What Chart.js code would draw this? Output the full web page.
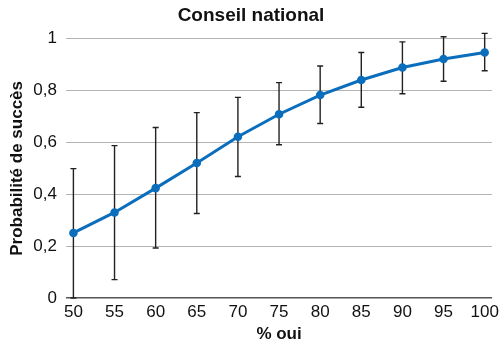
<!DOCTYPE html>
<html>
<head>
<meta charset="utf-8">
<script src="https://cdn.jsdelivr.net/npm/chart.js@4/dist/chart.umd.min.js"></script>
<style>
  html, body { margin: 0; padding: 0; background: #fff; }
  #wrap { width: 503px; height: 349px; }
</style>
</head>
<body>
<div id="wrap"><canvas id="chart"></canvas></div>
<script>
// % oui et probabilité de succès (avec intervalle)
const pctOui = [50, 55, 60, 65, 70, 75, 80, 85, 90, 95, 100];
const proba = [0.251, 0.33, 0.424, 0.521, 0.622, 0.709, 0.783, 0.841, 0.889, 0.922, 0.947];
const probaMin = [0.0, 0.071, 0.193, 0.326, 0.469, 0.591, 0.673, 0.736, 0.788, 0.836, 0.877];
const probaMax = [0.499, 0.588, 0.658, 0.715, 0.774, 0.831, 0.895, 0.947, 0.988, 1.008, 1.021];
const yTicks = [0, 0.2, 0.4, 0.6, 0.8, 1];

const FONT = "'Liberation Sans', Arial, sans-serif";

// barres d'erreur dessinées avec les échelles du graphique
const errorBars = {
  id: "errorBars",
  beforeDatasetsDraw(chart) {
    const { ctx, scales } = chart;
    ctx.save();
    ctx.strokeStyle = "#222";
    ctx.lineWidth = 1.4;
    pctOui.forEach((x, i) => {
      const px = scales.x.getPixelForValue(x);
      const top = scales.y.getPixelForValue(probaMax[i]);
      const bot = scales.y.getPixelForValue(probaMin[i]);
      ctx.beginPath();
      ctx.moveTo(px, top);
      ctx.lineTo(px, bot);
      ctx.moveTo(px - 3, top);
      ctx.lineTo(px + 3, top);
      ctx.moveTo(px - 3, bot);
      ctx.lineTo(px + 3, bot);
      ctx.stroke();
    });
    ctx.restore();
  },
};

new Chart(document.getElementById("chart"), {
  type: "line",
  data: {
    datasets: [
      {
        data: pctOui.map((x, i) => ({ x: x, y: proba[i] })),
        borderColor: "#0a6ebd",
        backgroundColor: "#0a6ebd",
        borderWidth: 3,
        pointRadius: 2.8,
        pointHoverRadius: 2.8,
        tension: 0,
        clip: false,
      },
    ],
  },
  options: {
    responsive: true,
    maintainAspectRatio: false,
    animation: false,
    layout: { padding: { top: 4, right: 8, bottom: 4, left: 7 } },
    plugins: {
      legend: { display: false },
      tooltip: { enabled: false },
      title: {
        display: true,
        text: "Conseil national",
        color: "#111",
        font: { family: FONT, size: 19, weight: "bold" },
        padding: { top: 0, bottom: 12 },
      },
    },
    scales: {
      x: {
        type: "linear",
        min: 49.1,
        max: 100.9,
        afterBuildTicks: (s) => { s.ticks = pctOui.map((v) => ({ value: v })); },
        afterFit: (s) => { s.height = 47; },
        grid: { display: false, drawTicks: false },
        border: { display: false },
        ticks: { color: "#111", font: { family: FONT, size: 17 }, padding: 4, maxRotation: 0 },
        title: {
          display: true,
          text: "% oui",
          color: "#111",
          font: { family: FONT, size: 17, weight: "bold" },
          padding: { top: 0, bottom: 0 },
        },
      },
      y: {
        min: 0,
        max: 1,
        afterBuildTicks: (s) => { s.ticks = yTicks.map((v) => ({ value: v })); },
        afterFit: (s) => { s.width = 59; },
        grid: {
          drawTicks: false,
          color: (c) => (c.tick && c.tick.value === 0 ? "#555" : "#b4b4b4"),
          lineWidth: (c) => (c.tick && c.tick.value === 0 ? 1.5 : 1),
        },
        border: { display: false },
        ticks: {
          color: "#111",
          font: { family: FONT, size: 17 },
          padding: 9,
          callback: (v) => String(v).replace(".", ","),
        },
        title: {
          display: true,
          text: "Probabilité de succès",
          color: "#111",
          font: { family: FONT, size: 17, weight: "bold" },
          padding: { top: 0, bottom: 2 },
        },
      },
    },
  },
  plugins: [errorBars],
});
</script>
</body>
</html>
